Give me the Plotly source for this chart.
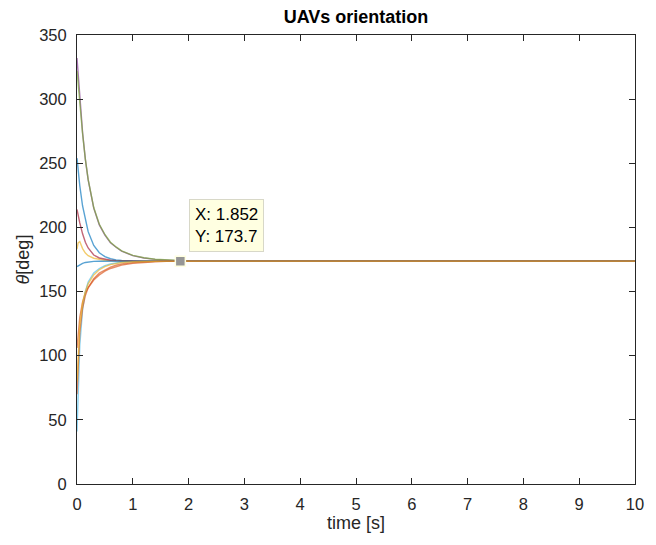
import plotly.graph_objects as go

# time samples (s)
t = [0, 0.02, 0.05, 0.1, 0.15, 0.2, 0.3, 0.4, 0.5, 0.6, 0.7, 0.8, 1.0, 1.2, 1.4, 1.6, 1.8, 2.0, 2.5, 10]

# orientation of each UAV (deg)
uav1 = [254, 243, 232.5, 216.7, 205.2, 196.7, 186, 180.3, 177.2, 175.6, 174.7, 174.2, 173.85, 173.75, 173.7, 173.7, 173.7, 173.7, 173.7, 173.7]
uav2 = [106, 118, 130, 142, 149, 153, 159, 163, 166, 168, 169.5, 170.6, 172, 172.9, 173.3, 173.55, 173.65, 173.7, 173.7, 173.7]
uav3 = [183, 188, 189, 183.5, 180, 178, 176, 175, 174.4, 174.1, 173.9, 173.8, 173.7, 173.7, 173.7, 173.7, 173.7, 173.7, 173.7, 173.7]
uav4 = [332, 319, 302, 274, 253, 237, 215, 202, 194, 188, 184.5, 181.5, 178, 176.2, 175.1, 174.5, 174.1, 173.9, 173.7, 173.7]
uav5 = [322, 311, 297, 273, 253, 237.5, 215.5, 202.5, 194.5, 188.5, 184.8, 181.8, 178.2, 176.4, 175.2, 174.6, 174.2, 173.9, 173.7, 173.7]
uav6 = [41, 75, 108, 136, 150, 157.5, 164.5, 168, 170.3, 171.6, 172.5, 173, 173.4, 173.6, 173.7, 173.7, 173.7, 173.7, 173.7, 173.7]
uav7 = [214, 209.5, 203.5, 195, 188.5, 184, 178.5, 176.2, 175, 174.4, 174.1, 173.9, 173.8, 173.7, 173.7, 173.7, 173.7, 173.7, 173.7, 173.7]
uav8 = [169.5, 170.1, 171, 172, 172.7, 173.1, 173.5, 173.6, 173.7, 173.7, 173.7, 173.7, 173.7, 173.7, 173.7, 173.7, 173.7, 173.7, 173.7, 173.7]
uav9 = [70, 95, 118, 137, 147, 153, 160, 164.5, 167, 169, 170.5, 171.5, 172.6, 173.2, 173.5, 173.65, 173.7, 173.7, 173.7, 173.7]
uav10 = [80, 103, 124, 141, 150, 156, 163, 167, 169.5, 171, 172, 172.7, 173.3, 173.6, 173.7, 173.7, 173.7, 173.7, 173.7, 173.7]

series = [uav1, uav2, uav3, uav4, uav5, uav6, uav7, uav8, uav9, uav10]
colors = ["#0072BD", "#D95319", "#EDB120", "#7E2F8E", "#77AC30",
          "#4DBEEE", "#A2142F", "#0072BD", "#D95319", "#EDB120"]

# data tip
tip_x = [1.852]
tip_y = [173.7]

x_ticks = list(range(0, 11))
y_ticks = list(range(0, 351, 50))

FONT = "Liberation Sans, Arial, Helvetica, sans-serif"

fig = go.Figure()
for s, c in zip(series, colors):
    fig.add_trace(go.Scatter(x=t, y=s, mode="lines", opacity=0.65,
                             line=dict(color=c, width=1.4), showlegend=False,
                             hoverinfo="skip"))

fig.add_trace(go.Scatter(x=tip_x, y=tip_y, mode="markers",
                         marker=dict(symbol="square", size=10, color="#969696",
                                     line=dict(color="#FFFFE1", width=1.5)),
                         showlegend=False))

fig.add_annotation(x=2.01, y=181.1, xref="x", yref="y", xanchor="left", yanchor="bottom",
                   text=f"X: {tip_x[0]}<br>Y: {tip_y[0]}", showarrow=False, align="left",
                   font=dict(family=FONT, size=17, color="#000000"),
                   bgcolor="#FFFFE1", bordercolor="#D8D8C8", borderwidth=1, borderpad=5)

axis_common = dict(showgrid=False, zeroline=False, showline=True, linecolor="#262626",
                   linewidth=1, mirror="ticks", ticks="inside", ticklen=6,
                   tickcolor="#262626",
                   tickfont=dict(family=FONT, size=16.5, color="#262626"))

fig.update_xaxes(range=[0, 10], tickvals=x_ticks, ticklabelstandoff=5,
                 title=dict(text="time [s]", standoff=4,
                            font=dict(family=FONT, size=18, color="#262626")),
                 **axis_common)
fig.update_yaxes(range=[0, 350], tickvals=y_ticks, ticklabelstandoff=6,
                 title=dict(text="<i>θ</i>[deg]", standoff=4,
                            font=dict(family=FONT, size=18, color="#262626")),
                 **axis_common)

fig.update_layout(
    width=656, height=545,
    margin=dict(l=77, r=12, t=35, b=61),
    paper_bgcolor="white", plot_bgcolor="white",
    title=dict(text="<b>UAVs orientation</b>", x=0.5, xref="paper", y=1 - 17 / 545,
               yref="container", xanchor="center", yanchor="middle",
               font=dict(family=FONT, size=18, color="#000000")),
)

fig.write_html("out.html")
